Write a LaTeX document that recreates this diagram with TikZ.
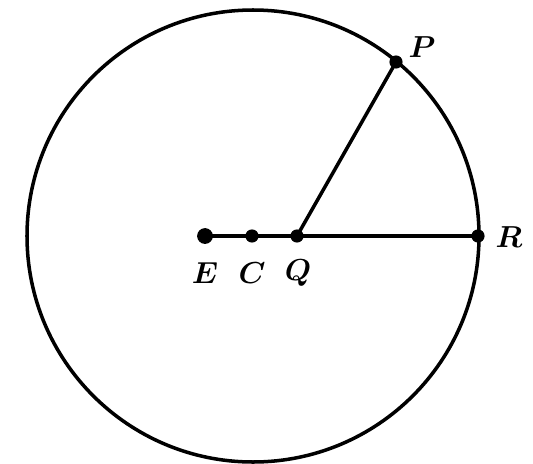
\documentclass[tikz,border=0pt]{standalone}
\usepackage{amsmath}
\usepackage{bm}
\usetikzlibrary{positioning}

\begin{document}
\begin{tikzpicture}[
  x=0.02cm, y=-0.02cm,
  curve/.style={line width=2pt},
  dot/.style={circle, fill=black, inner sep=0pt, minimum size=7.5pt},
  bigdot/.style={circle, fill=black, inner sep=0pt, minimum size=9pt},
  lbl/.style={font=\fontsize{19}{21}\selectfont, inner sep=1pt}
]
  \useasboundingbox (0,0) rectangle (533,463);

  \coordinate (centre) at (253,236);
  \node[bigdot] (E) at (205,236) {};
  \node[dot] (C) at (252,236) {};
  \node[dot] (Q) at (297,236) {};
  \node[dot] (P) at (396,62) {};
  \node[dot] (R) at (478,236) {};

  % circle
  \draw[curve] (centre) circle[radius=226];

  % segments
  \draw[curve] (E.center) -- (C.center) -- (Q.center) -- (R.center);
  \draw[curve] (Q.center) -- (P.center);

  % labels
  \node[lbl] (lE) at (205,273) {$\bm{E}$};
  \node[lbl] (lC) at (252,273) {$\bm{C}$};
  \node[lbl] (lQ) at (298,273) {$\bm{Q}$};
  \node[lbl] (lP) at (422,47) {$\bm{P}$};
  \node[lbl] (lR) at (509,237) {$\bm{R}$};
\end{tikzpicture}
\end{document}
